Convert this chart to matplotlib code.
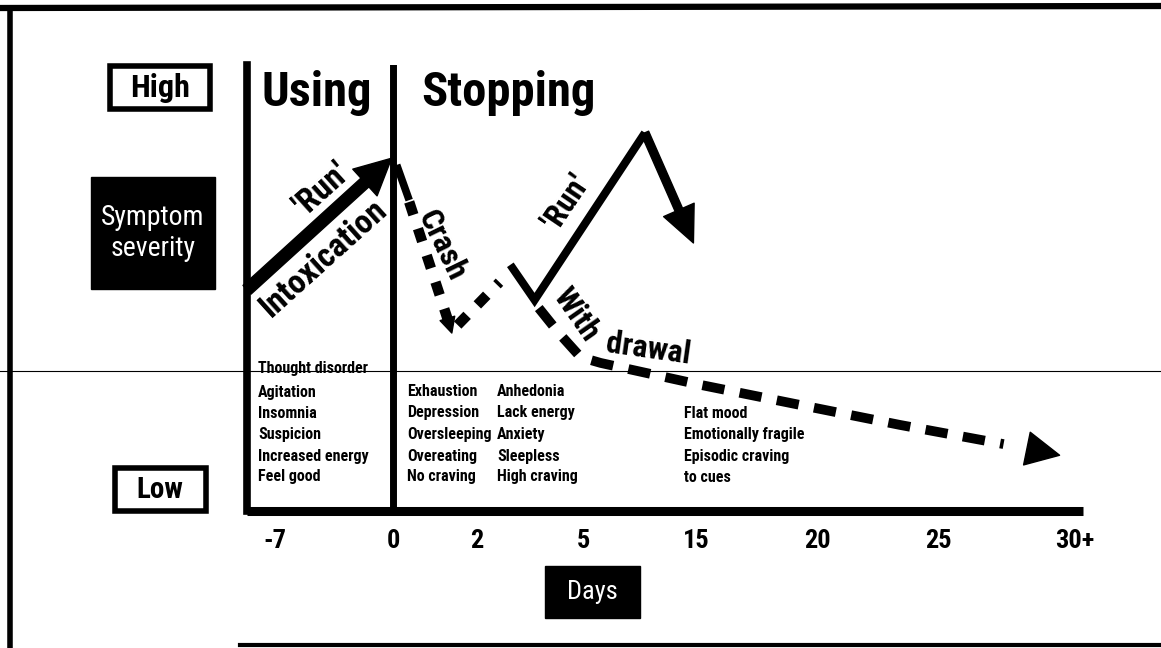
import matplotlib
matplotlib.use("Agg")
import matplotlib.pyplot as plt
from matplotlib.patches import Rectangle
from matplotlib import font_manager as fm

names = {f.name for f in fm.fontManager.ttflist}
cands = ['Roboto Condensed', 'DejaVu Sans Condensed', 'Liberation Sans Narrow',
         'Open Sans Condensed', 'Roboto', 'DejaVu Sans']
FONT = [c for c in cands if c in names] + ['DejaVu Sans']
plt.rcParams['font.family'] = FONT

# ---------------- data ----------------
tick_pos = [0.33, 1.75, 2.75, 4.02, 5.38, 6.82, 8.27, 9.90]
tick_labels = ['-7', '0', '2', '5', '15', '20', '25', '30+']
day0 = 1.75

intox_x = [0.0, 1.73]
intox_y = [4.96, 7.91]

crash_solid_x = [1.79, 1.94]
crash_solid_y = [7.76, 6.97]
crash_dash_x = [1.94, 2.40]
crash_dash_y = [6.93, 4.30]
crash_tip = (2.45, 3.99)

rebound_x = [2.52, 3.02]
rebound_y = [4.17, 5.13]

run2_x = [3.15, 3.44, 4.76]
run2_y = [5.52, 4.73, 8.48]
run2_tip = (5.34, 6.01)

withdraw_x = [3.49, 3.73, 3.99, 4.23, 5.42, 6.61, 7.81, 9.05]
withdraw_y = [4.55, 3.99, 3.45, 3.32, 2.83, 2.38, 1.93, 1.50]
withdraw_tip = (9.72, 1.25)

using_symptoms = ['Thought disorder', 'Agitation', 'Insomnia', 'Suspicion',
                  'Increased energy', 'Feel good']
stop_col1 = ['Exhaustion', 'Depression', 'Oversleeping', 'Overeating', 'No craving']
stop_col2 = ['Anhedonia', 'Lack energy', 'Anxiety', 'Sleepless', 'High craving']
stop_col3 = ['Flat mood', 'Emotionally fragile', 'Episodic craving', 'to cues']

W, H = 1161, 648
fig = plt.figure(figsize=(W / 100, H / 100), dpi=100)
fig.patch.set_facecolor('white')

# main axes (pixel box: x 247..1083, y 65..511)
ax = fig.add_axes([247 / W, 1 - 511 / H, (1083 - 247) / W, (511 - 65) / H])
ax.set_xlim(0, 10)
ax.set_ylim(0, 10)
ax.patch.set_alpha(0)
for s in ['top', 'right']:
    ax.spines[s].set_visible(False)
ax.spines['left'].set_linewidth(5.5)
ax.spines['bottom'].set_linewidth(6.5)
ax.spines['bottom'].set_capstyle('butt')
ax.set_yticks([])
ax.set_xticks(tick_pos, tick_labels)
ax.tick_params(axis='x', length=0, pad=13, labelsize=19)
for lab in ax.get_xticklabels():
    lab.set_fontweight('bold')

# day 0 divider
ax.axvline(day0, color='black', lw=5, ymin=0, ymax=1)

# Intoxication arrow
ax.annotate('', xy=(intox_x[1], intox_y[1]), xytext=(intox_x[0], intox_y[0]),
            arrowprops=dict(width=8.5, headwidth=26, headlength=26,
                            facecolor='black', edgecolor='black', shrink=0))

# crash
ax.plot(crash_solid_x, crash_solid_y, color='black', lw=5.5, solid_capstyle='butt')
ax.plot(crash_dash_x, crash_dash_y, color='black', lw=7.5,
        linestyle=(0, (1.3, 1.4)), dash_capstyle='butt')
ax.annotate('', xy=crash_tip, xytext=(crash_dash_x[1], crash_dash_y[1]),
            arrowprops=dict(width=0.5, headwidth=11, headlength=11,
                            facecolor='black', edgecolor='black', shrink=0))
ax.plot(rebound_x, rebound_y, color='black', lw=7.5,
        linestyle=(0, (1.3, 1.4)), dash_capstyle='butt')

# second run
ax.plot(run2_x, run2_y, color='black', lw=5.8, solid_joinstyle='miter',
        solid_capstyle='butt')
ax.annotate('', xy=run2_tip, xytext=(run2_x[-1], run2_y[-1]),
            arrowprops=dict(width=5.8, headwidth=24, headlength=26,
                            facecolor='black', edgecolor='black', shrink=0))

# withdrawal
ax.plot(withdraw_x, withdraw_y, color='black', lw=7,
        linestyle=(0, (2.3, 1.6)), dash_capstyle='butt')
ax.annotate('', xy=withdraw_tip, xytext=(withdraw_x[-1] + 0.33, withdraw_y[-1] - 0.12),
            arrowprops=dict(width=0.5, headwidth=24, headlength=24,
                            facecolor='black', edgecolor='black', shrink=0))

# -------- decoration overlay in pixel coords --------
deco = fig.add_axes([0, 0, 1, 1], zorder=-1)
deco.set_xlim(0, W)
deco.set_ylim(H, 0)
deco.axis('off')

# page frame (scan)
deco.plot([0, W], [8, 6], color='black', lw=4.5)
deco.plot([10, 10], [8, H], color='black', lw=4)
deco.plot([240, W], [645, 645], color='black', lw=3)
deco.plot([0, W], [371, 371], color='black', lw=0.8)

# High / Symptom severity / Low boxes
deco.add_patch(Rectangle((110, 66), 100, 43, fill=False, lw=4, ec='black'))
deco.text(160, 88, 'High', ha='center', va='center', fontsize=23, fontweight='bold')
deco.add_patch(Rectangle((91, 177), 124, 112, fc='black', ec='black'))
deco.text(153, 233, 'Symptom\nseverity', ha='center', va='center', fontsize=20,
          color='white', linespacing=1.15)
deco.add_patch(Rectangle((115, 468), 91, 43, fill=False, lw=4, ec='black'))
deco.text(160, 490, 'Low', ha='center', va='center', fontsize=21, fontweight='bold')
deco.add_patch(Rectangle((545, 566), 95, 52, fc='black', ec='black'))
deco.text(592, 592, 'Days', ha='center', va='center', fontsize=19, color='white')

# headings
deco.text(262, 106, 'Using', ha='left', va='baseline', fontsize=35, fontweight='bold')
deco.text(421, 106, 'Stopping', ha='left', va='baseline', fontsize=35, fontweight='bold')

# line labels
deco.text(322, 190, "'Run'", ha='center', va='center', fontsize=24, fontweight='bold',
          rotation=42, rotation_mode='anchor')
deco.text(324, 258, 'Intoxication', ha='center', va='center', fontsize=24,
          fontweight='bold', rotation=42, rotation_mode='anchor')
deco.text(442, 245, 'Crash', ha='center', va='center', fontsize=23, fontweight='bold',
          rotation=-64, rotation_mode='anchor')
deco.text(566, 202, "'Run'", ha='center', va='center', fontsize=23, fontweight='bold',
          rotation=56, rotation_mode='anchor')
deco.text(576, 314, 'With', ha='center', va='center', fontsize=23, fontweight='bold',
          rotation=-55, rotation_mode='anchor')
deco.text(648, 349, 'drawal', ha='center', va='center', fontsize=23, fontweight='bold',
          rotation=-8, rotation_mode='anchor')

# symptom lists
LS = 11.5
row_y = [392, 413, 434, 456, 477]
deco.text(258, 368, using_symptoms[0], ha='left', va='center', fontsize=LS, fontweight='bold')
for yy, t in zip(row_y, using_symptoms[1:]):
    deco.text(258, yy, t, ha='left', va='center', fontsize=LS, fontweight='bold')
for yy, t in zip(row_y, stop_col1):
    deco.text(407, yy, t, ha='left', va='center', fontsize=LS, fontweight='bold')
for yy, t in zip(row_y, stop_col2):
    deco.text(497, yy, t, ha='left', va='center', fontsize=LS, fontweight='bold')
for yy, t in zip(row_y[1:], stop_col3):
    deco.text(684, yy, t, ha='left', va='center', fontsize=LS, fontweight='bold')

fig.savefig('out.png', dpi=100, facecolor='white')
